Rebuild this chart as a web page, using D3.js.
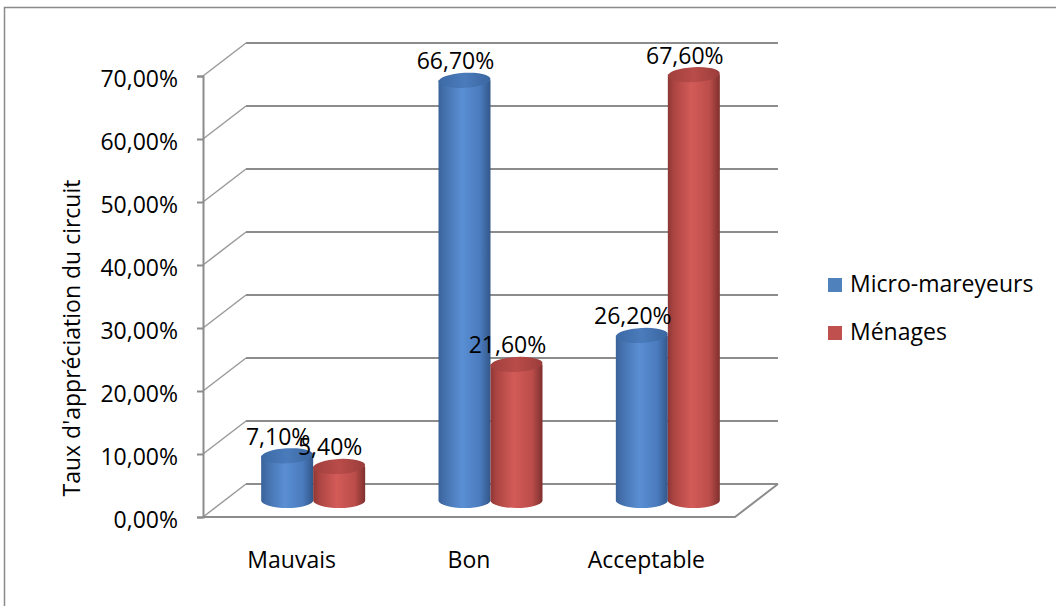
<!DOCTYPE html>
<html>
<head>
<meta charset="utf-8">
<script src="https://cdn.jsdelivr.net/npm/d3@7"></script>
<style>
  html, body { margin: 0; padding: 0; background: #ffffff; }
  svg { display: block; font-family: "Open Sans", "Noto Sans", sans-serif; }
</style>
</head>
<body>
<svg id="chart" width="1056" height="606"></svg>
<script>
// Appreciation of the circuit, by category and respondent group (percent)
const categories = ["Mauvais", "Bon", "Acceptable"];
const seriesNames = ["Micro-mareyeurs", "Ménages"];
const microMareyeurs = [7.1, 66.7, 26.2];
const menages = [5.4, 21.6, 67.6];
const yTicks = [0, 10, 20, 30, 40, 50, 60, 70];
const yTitle = "Taux d'appréciation du circuit";

const seriesValues = [microMareyeurs, menages];
const seriesColors = ["#4F81BD", "#C0504D"];

const svg = d3.select("#chart");
const W = 1056, H = 606;

// French number formatting: comma as decimal separator
const fr = d3.formatLocale({ decimal: ",", thousands: " ", grouping: [3], currency: ["", " €"] });
const fmt = v => fr.format(".2f")(v) + "%";

// Plot geometry (front plane + depth offset for the 3D walls)
const x0 = 203, x1 = 735;
const depthX = 43, depthY = -33;

const x = d3.scaleBand().domain(categories).range([x0, x1]);
const xs = d3.scaleBand().domain(seriesNames).range([-52, 52]);
const y = d3.scaleLinear().domain([0, 70]).range([517, 76]);

// Outer chart frame
svg.append("rect")
  .attr("x", 4.5).attr("y", 7.5)
  .attr("width", W + 20).attr("height", H + 20)
  .attr("fill", "none").attr("stroke", "#8a8a8a").attr("stroke-width", 1.5);

// Gradients for cylinder shading
const defs = svg.append("defs");
function bodyGradient(id, stops) {
  const g = defs.append("linearGradient").attr("id", id)
    .attr("x1", "0%").attr("x2", "100%").attr("y1", "0%").attr("y2", "0%");
  stops.forEach(([o, c]) => g.append("stop").attr("offset", o).attr("stop-color", c));
}
bodyGradient("body0", [["0%", "#3a6299"], ["12%", "#4471ad"], ["45%", "#5a8fd4"], ["80%", "#4a7bbd"], ["100%", "#33578a"]]);
bodyGradient("body1", [["0%", "#8e3735"], ["12%", "#ac4542"], ["45%", "#d35b58"], ["80%", "#bb4d4a"], ["100%", "#7f302e"]]);
bodyGradient("top0", [["0%", "#3d6aa5"], ["50%", "#4a7bbb"], ["100%", "#3b66a0"]]);
bodyGradient("top1", [["0%", "#a0403e"], ["50%", "#b94c49"], ["100%", "#9a3d3b"]]);

// Back wall gridlines with their receding diagonals
const grid = svg.append("g");
yTicks.forEach(t => {
  const yf = y(t);
  grid.append("line")
    .attr("x1", x0).attr("y1", yf).attr("x2", x0 + depthX).attr("y2", yf + depthY)
    .attr("stroke", "#9a9a9a").attr("stroke-width", 1.5);
  grid.append("line")
    .attr("x1", x0 + depthX).attr("y1", yf + depthY).attr("x2", x1 + depthX).attr("y2", yf + depthY)
    .attr("stroke", "#8c8c8c").attr("stroke-width", 2);
});

// Floor front edge and right edge
grid.append("path")
  .attr("d", `M${x0},${y(0)} L${x1},${y(0)} L${x1 + depthX},${y(0) + depthY}`)
  .attr("fill", "none").attr("stroke", "#8c8c8c").attr("stroke-width", 2);

// Vertical value axis with ticks
const yAxis = d3.axisLeft(y).tickValues(yTicks).tickSize(6).tickFormat(fmt).tickPadding(19);
const gAxis = svg.append("g").attr("transform", `translate(${x0},0)`).call(yAxis);
gAxis.select(".domain").attr("stroke", "#8c8c8c").attr("stroke-width", 2);
gAxis.selectAll(".tick line").attr("stroke", "#8c8c8c").attr("stroke-width", 2);
gAxis.selectAll(".tick text")
  .attr("font-size", 23).attr("fill", "#000")
  .attr("font-family", "'Open Sans', sans-serif")
  .attr("dy", "0.45em");

// Axis title
svg.append("text")
  .attr("transform", `translate(80,338) rotate(-90)`)
  .attr("text-anchor", "middle")
  .attr("font-size", 23).attr("fill", "#000")
  .text(yTitle);

// Category labels
svg.append("g").selectAll("text").data(categories).join("text")
  .attr("x", d => x(d) + x.bandwidth() / 2)
  .attr("y", 568)
  .attr("text-anchor", "middle")
  .attr("font-size", 23).attr("fill", "#000")
  .text(d => d);

// Cylinders, placed at mid-depth of the floor
const rx = 26, ry = 7.5;
const midX = depthX / 2, midY = depthY / 2;
const bars = [];
categories.forEach((c, i) => {
  seriesNames.forEach((s, j) => {
    const v = seriesValues[j][i];
    const cx = x(c) + x.bandwidth() / 2 + midX + xs(s) + xs.bandwidth() / 2;
    bars.push({ c, s, j, v, cx, base: y(0) + midY, top: y(v) + midY });
  });
});

const gBars = svg.append("g");
bars.forEach(b => {
  const g = gBars.append("g");
  g.append("path")
    .attr("d", `M${b.cx - rx},${b.top} L${b.cx - rx},${b.base} A${rx},${ry} 0 0 0 ${b.cx + rx},${b.base} L${b.cx + rx},${b.top} Z`)
    .attr("fill", `url(#body${b.j})`);
  g.append("ellipse")
    .attr("cx", b.cx).attr("cy", b.top)
    .attr("rx", rx).attr("ry", ry)
    .attr("transform", `rotate(-3,${b.cx},${b.top})`)
    .attr("fill", `url(#top${b.j})`);
});

// Value labels above each cylinder
svg.append("g").selectAll("text").data(bars).join("text")
  .attr("x", d => d.cx - 9)
  .attr("y", d => d.top - 11)
  .attr("text-anchor", "middle")
  .attr("font-size", 23).attr("fill", "#000")
  .text(d => fmt(d.v));

// Legend
const legend = svg.append("g");
seriesNames.forEach((s, j) => {
  const ly = 278 + j * 48;
  legend.append("rect")
    .attr("x", 828).attr("y", ly).attr("width", 14).attr("height", 14)
    .attr("fill", seriesColors[j]);
  legend.append("text")
    .attr("x", 850).attr("y", ly + 14)
    .attr("font-size", 23).attr("fill", "#000")
    .text(s);
});
</script>
</body>
</html>
